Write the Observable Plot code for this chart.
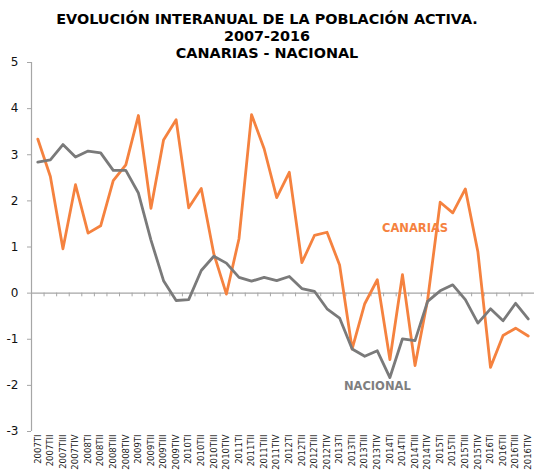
<!DOCTYPE html>
<html>
<head>
<meta charset="utf-8">
<script src="https://cdn.jsdelivr.net/npm/d3@7"></script>
<script src="https://cdn.jsdelivr.net/npm/@observablehq/plot@0.6"></script>
<style>
  body { margin: 0; background: #fff; }
  #wrap { width: 534px; }
  #title { height: 55px; box-sizing: border-box; padding-top: 11px; text-align: center;
    font: bold 14.4px "DejaVu Sans", Verdana, sans-serif; line-height: 16.8px; color: #000; }
  svg { display: block; }
</style>
</head>
<body>
<div id="wrap">
  <div id="title">EVOLUCIÓN INTERANUAL DE LA POBLACIÓN ACTIVA.<br>2007-2016<br>CANARIAS - NACIONAL</div>
  <div id="chart"></div>
</div>
<script>
const years = ["2007","2008","2009","2010","2011","2012","2013","2014","2015","2016"];
const quarterNames = ["TI","TII","TIII","TIV"];
const quarters = years.flatMap(y => quarterNames.map(q => y + q));

const canarias = [3.34, 2.53, 0.96, 2.35, 1.30, 1.46, 2.44, 2.78, 3.85, 1.84,
                  3.32, 3.76, 1.85, 2.27, 0.85, -0.02, 1.18, 3.87, 3.13, 2.07,
                  2.62, 0.66, 1.25, 1.32, 0.61, -1.21, -0.23, 0.29, -1.44, 0.40,
                  -1.57, -0.15, 1.97, 1.74, 2.26, 0.89, -1.61, -0.92, -0.76, -0.93];
const nacional = [2.84, 2.89, 3.22, 2.95, 3.08, 3.04, 2.66, 2.66, 2.17, 1.15,
                  0.27, -0.16, -0.14, 0.49, 0.80, 0.65, 0.34, 0.26, 0.34, 0.27,
                  0.36, 0.10, 0.04, -0.34, -0.54, -1.21, -1.37, -1.25, -1.83, -0.99,
                  -1.03, -0.18, 0.05, 0.18, -0.14, -0.65, -0.34, -0.60, -0.22, -0.56];
const yTicks = [-3, -2, -1, 0, 1, 2, 3, 4, 5];

const labels = [
  {text: "CANARIAS", q: "2014TIII", v: 1.40, color: "#F5823F"},
  {text: "NACIONAL", q: "2013TIV", v: -2.02, color: "#7F7F7F"}
];

const orange = "#F5823F";
const gray = "#7A7A7A";
const axisGray = "#A6A6A6";

const W = 534, H = 417, ML = 31, MR = 0;
const step = (W - ML - MR) / quarters.length;

const canData = quarters.map((q, i) => ({q, v: canarias[i]}));
const nacData = quarters.map((q, i) => ({q, v: nacional[i]}));

const chart = Plot.plot({
  width: W,
  height: H,
  marginLeft: ML,
  marginRight: MR,
  marginTop: 7,
  marginBottom: 41,
  style: {fontFamily: "'DejaVu Sans', Verdana, sans-serif", background: "#fff", overflow: "visible"},
  x: {type: "band", domain: quarters, padding: 0, round: false, label: null},
  y: {type: "linear", domain: [-3, 5], label: null},
  marks: [
    Plot.axisY({ticks: yTicks, tickSize: 4, tickPadding: 9, fontSize: 12, stroke: axisGray, color: "#111", tickFormat: d => String(d)}),
    Plot.ruleX([quarters[0]], {x: d => d, dx: -step / 2, y1: -3, y2: 5, stroke: axisGray, strokeWidth: 1.2}),
    Plot.axisX({anchor: "bottom", tickSize: 0, tickRotate: -90, tickPadding: 3, fontSize: 8.5, color: "#222", textAnchor: "end"}),
    Plot.ruleY([0], {stroke: axisGray, strokeWidth: 1.2}),
    Plot.ruleX(quarters, {x: d => d, dx: -step / 2, y1: 0, y2: -0.08, stroke: axisGray, strokeWidth: 1}),
    Plot.line(canData, {x: "q", y: "v", stroke: orange, strokeWidth: 2.8}),
    Plot.line(nacData, {x: "q", y: "v", stroke: gray, strokeWidth: 2.8}),
    Plot.text(labels, {x: "q", y: "v", text: "text", fill: "color", fontWeight: "bold", fontSize: 11.5})
  ]
});
document.getElementById("chart").appendChild(chart);
</script>
</body>
</html>
